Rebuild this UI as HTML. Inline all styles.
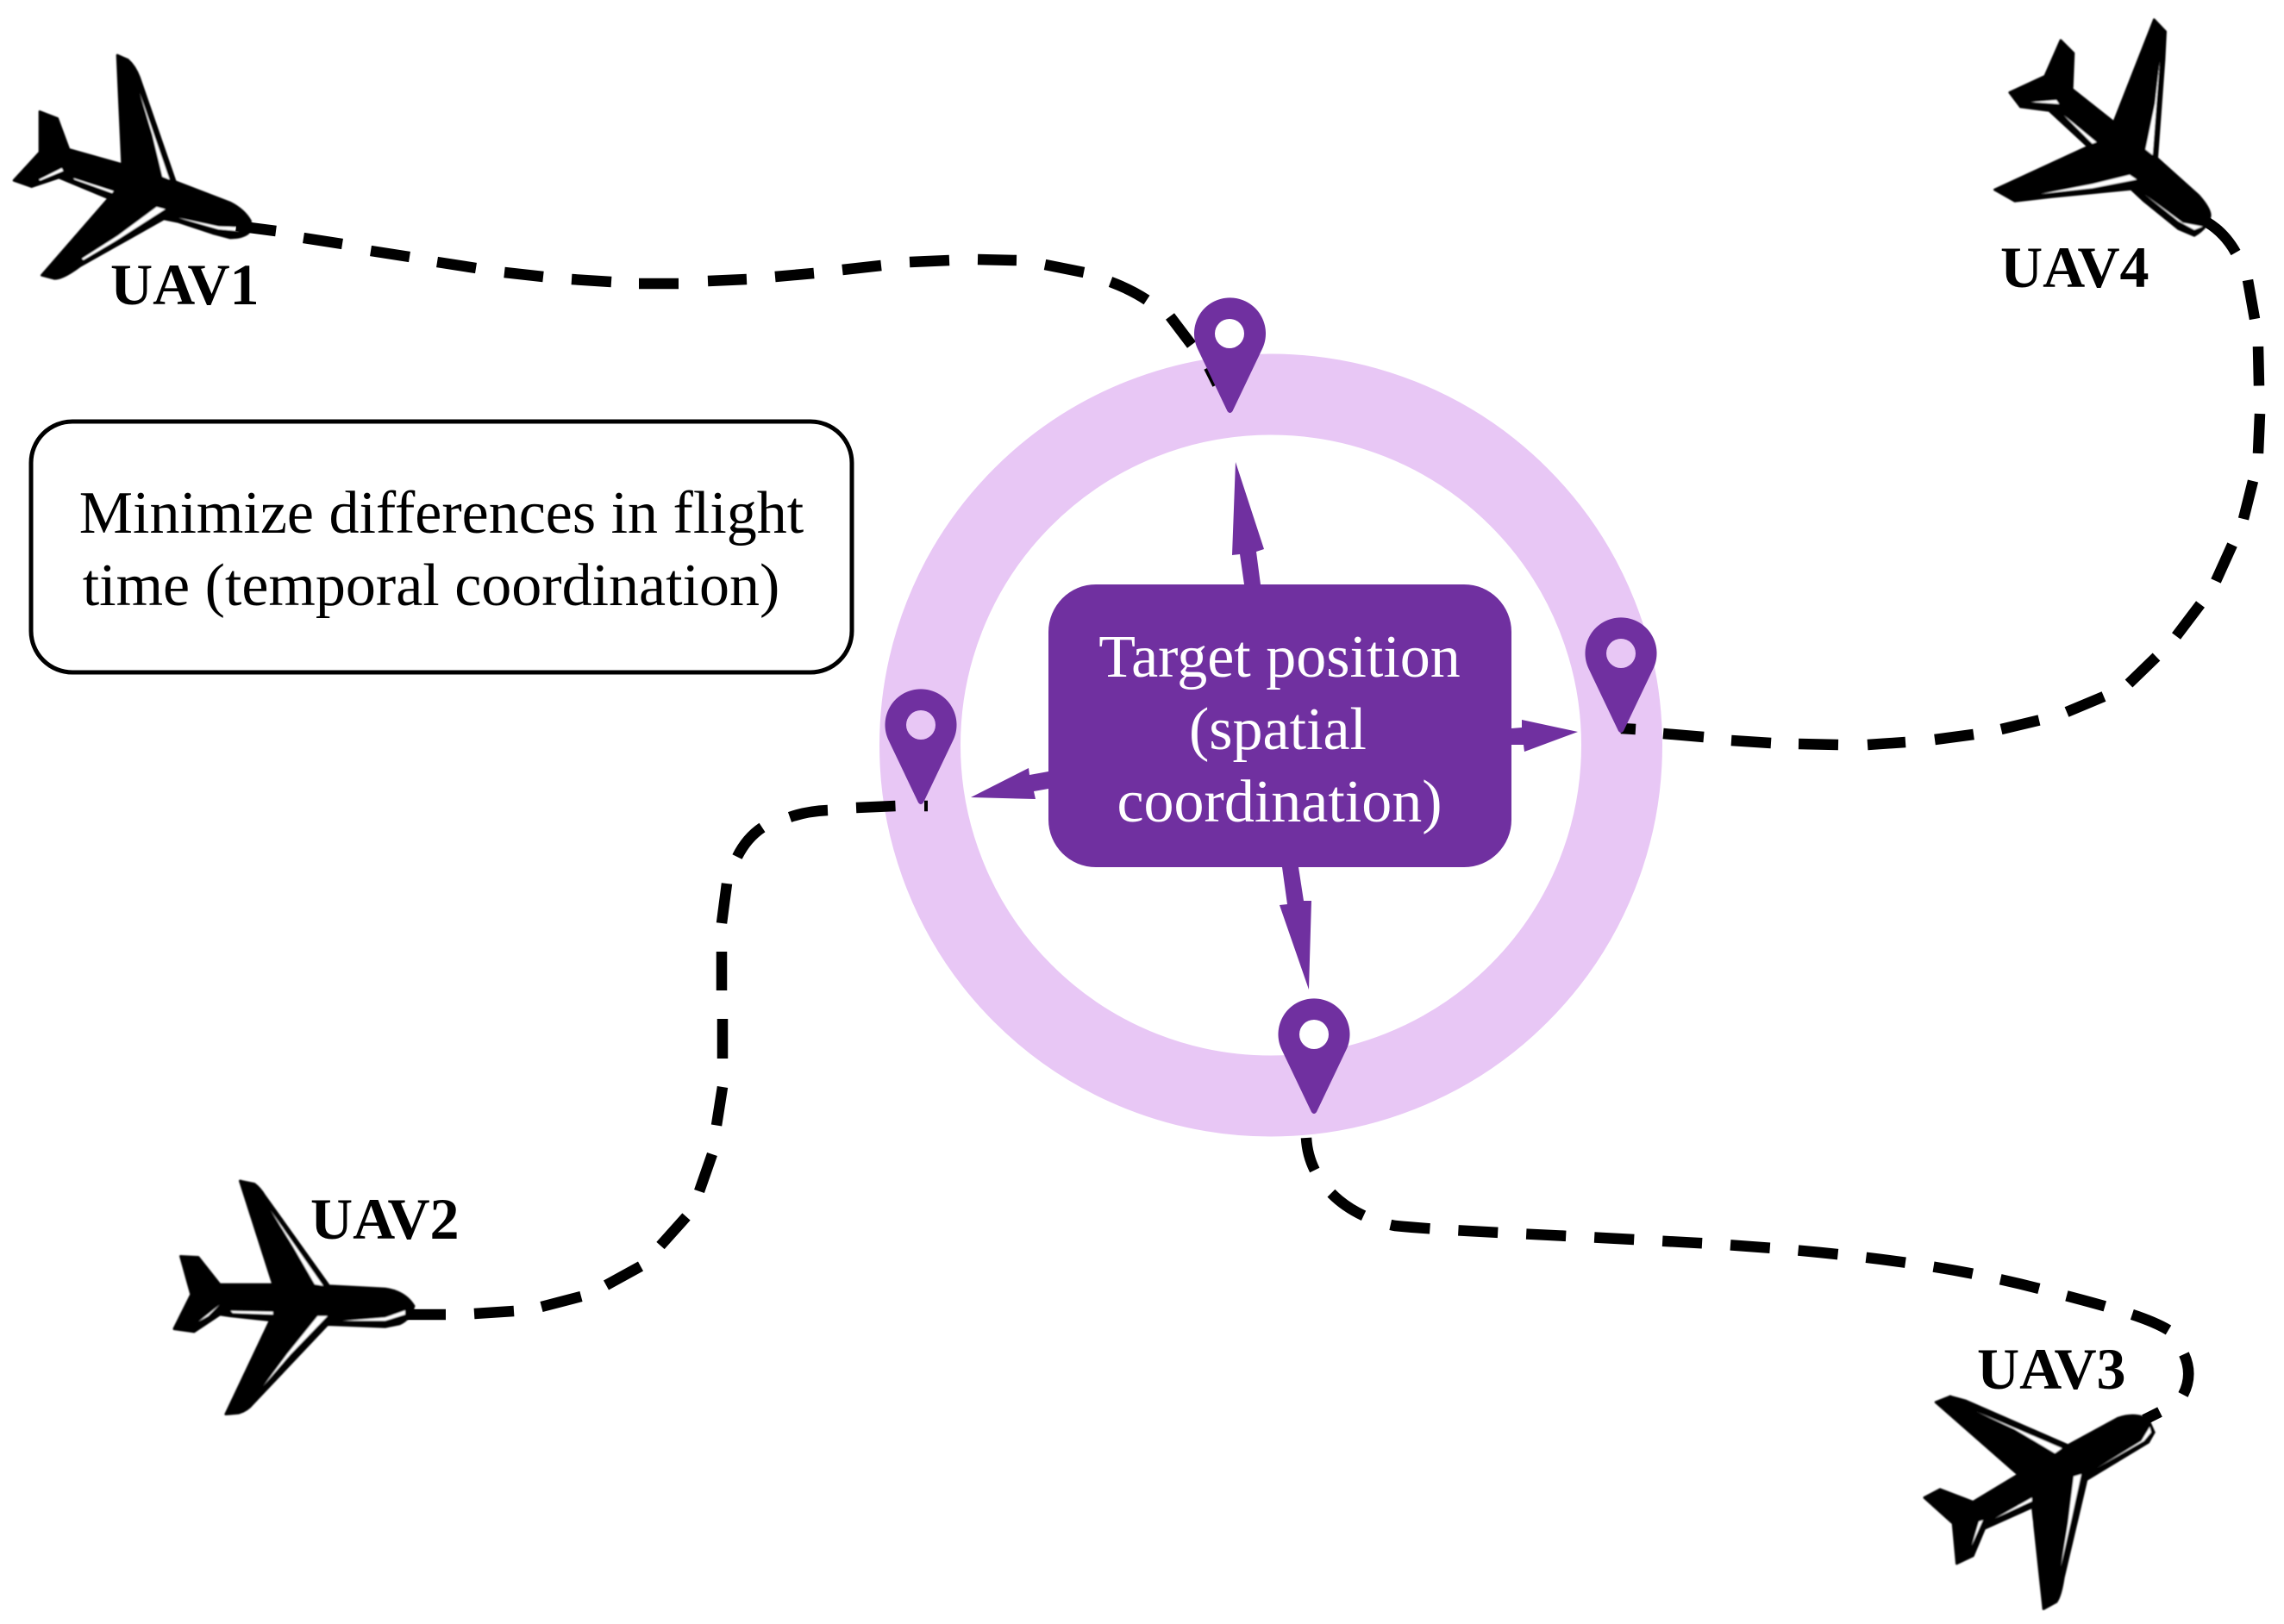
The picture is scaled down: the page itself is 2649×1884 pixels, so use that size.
<!DOCTYPE html>
<html><head><meta charset="utf-8"><style>
html,body{margin:0;padding:0;background:#fff}
svg{display:block}
text{font-family:"Liberation Serif",serif}
.b{font-weight:bold;font-size:68px;fill:#000}
.t{font-size:70px;text-anchor:middle}
.pl{stroke:#000;stroke-width:8;stroke-linejoin:round}
</style></head><body>
<svg width="2649" height="1884" viewBox="0 0 2649 1884" xmlns="http://www.w3.org/2000/svg">
<defs><filter id="s" x="-5%" y="-5%" width="110%" height="110%"><feGaussianBlur stdDeviation="0.8"/></filter></defs>
<rect width="2649" height="1884" fill="#fff"/>
<circle cx="1474" cy="864.500" r="407" fill="none" stroke="#E8C7F5" stroke-width="94"/>
<g filter="url(#s)">
<g transform="translate(0,40) scale(.33333)">
<path class="pl" d="M408,72 L445,88 Q470,110 485,150 L610,512 L800,585 Q850,610 872,650 L865,690 Q845,708 800,708 L740,692 L620,652 L570,642 L280,805 Q220,850 190,850 L145,838 L378,570 L205,498 L110,530 L48,508 L138,410 L138,268 L200,292 L240,400 L425,452 Z"/>
<g fill="#fff"><polygon points="485,200 590,505 565,495 530,350"/><polygon points="545,600 575,608 400,720 290,785 285,780 410,700"/><polygon points="135,505 215,465 220,475 140,508"/><polygon points="255,500 395,545 390,552 260,505"/><polygon points="620,638 760,668 830,670 830,684 760,678"/></g>
</g>
<g transform="translate(180,1350) scale(.33333)">
<path class="pl" d="M295,60 L345,70 Q365,85 380,110 L605,425 L800,435 Q870,445 900,495 Q890,540 850,558 L800,568 L650,562 L600,560 L340,835 Q320,860 290,868 L245,872 L400,545 L260,530 L225,525 L135,585 L65,575 L125,455 L88,322 L150,325 L225,420 L410,420 Z"/>
<g fill="#fff"><polygon points="400,160 585,425 555,420 480,290"/><polygon points="565,530 600,530 470,665 375,775 460,660"/><polygon points="150,550 225,490 185,530"/><polygon points="262,512 410,515 410,525 270,520"/><polygon points="650,547 800,535 870,510 870,525 800,547"/></g>
</g>
<g transform="translate(2220,1530) scale(.33333)">
<path class="pl" d="M75,290 L125,270 L180,285 L535,440 L710,345 Q770,325 815,350 L835,395 L815,430 L600,560 L520,900 Q510,965 495,985 L450,1010 L412,655 L245,730 L205,825 L148,852 L135,712 L35,622 L90,593 L205,637 L362,542 Z"/>
<g fill="#fff"><polygon points="215,322 515,450 490,468 350,385"/><polygon points="555,548 582,540 545,710 510,865 535,710"/><polygon points="280,695 410,622 410,635"/><polygon points="200,790 240,700 225,705"/><polygon points="635,520 790,425 820,375 825,395 800,425"/></g>
</g>
<g transform="translate(2230,0) scale(.33333)">
<path class="pl" d="M805,68 L845,110 L840,210 L815,550 L960,680 Q1000,725 1000,750 Q995,790 945,820 L890,797 L770,700 L725,658 L450,685 L320,700 L250,660 L575,510 L440,385 L340,372 L302,322 L425,265 L480,140 L525,185 L520,310 L665,425 Z"/>
<g fill="#fff"><polygon points="825,210 800,540 775,520 808,360"/><polygon points="720,608 745,625 590,655 410,675 590,640"/><polygon points="375,355 465,348 475,362"/><polygon points="490,400 605,495 590,500"/><polygon points="770,675 905,775 975,788 945,800 890,770"/></g>
</g>
</g>
<g fill="none" stroke="#000" stroke-width="12.500">
<path d="M274,262 L320,268 M352,276 L397,283 M430,291 L475,298 M507,304 L552,311 M585,316 L630,321 M663,324 L709,327 M741,329 L787,329 M821,326 L866,324 M899,321 L944,317 M977,313 L1022,308 M1055,304 L1101,302 M1134,301 L1179,302 M1212,307 L1257,316 M1288,327 Q1312,336 1330,348 M1357,367 L1382,400 M1402,426 L1412,446"/>
<path d="M472,1525 L517,1525 M550,1524 L596,1521 M628,1516 L674,1504 M703,1491 L743,1469 M766,1445 L796,1411.500 M811,1382 L826,1339 M831,1305.500 L838,1261 M838,1228 L838,1182 M837,1149 L837,1104 M837,1071 L843,1025 M855,994 Q866,972 884,960 M916,948 Q936,941 960,940 M993,937 L1038.500,935 M1072,935 L1076,935"/>
<path d="M2560,258 Q2580,270 2593,293 M2607,325 L2615,370 M2619,402 L2620,447.500 M2621,480 L2619,526 M2613,558 L2602,602 M2589,632 L2570,674 M2552,701 L2524,738 M2501,762 L2469,793 M2440,808 L2397,826 M2365,835.500 L2321,846 M2289,852 L2244,858 M2210,861 L2166,864 M2132,864 L2086,863 M2054,862 L2008,859 M1976,855 L1929,851 M1897,846 L1880,845"/>
<path d="M2487,1647 L2505,1638 M2532,1618 Q2544,1595 2533,1571"/>
<path stroke-dasharray="46 33" d="M2515,1543 C2490,1528 2450,1517 2365,1495 S2200,1462 2111,1453 S1950,1441 1858,1436 S1680,1428 1618,1422 C1565,1412 1518,1375 1515,1320"/>
</g>
<rect x="1216" y="678" width="537" height="328" rx="55" fill="#7030A0"/>
<g fill="#7030A0">
<polygon points="1433,536 1466,637 1457,640 1462,678 1443,678 1438,643 1429,644"/>
<polygon points="1753,845 1765,844 1765,835 1830,849 1768,872 1767,864 1753,864"/>
<polygon points="1487,1006 1506,1006 1512,1045 1521,1045 1518,1148 1484,1050 1493,1049"/>
<polygon points="1126,925 1193,891 1194,899 1216,895 1216,915 1199,918 1201,927"/>
</g>
<g fill="#7030A0">
<path d="M1429.500,477 Q1426.500,481 1423.500,477 L1389.400,405.500 A41.500,41.500 0 1 1 1463.600,405.500 Z"/>
<path d="M1071,931 Q1068,935 1065,931 L1030.900,859.500 A41.500,41.500 0 1 1 1105.100,859.500 Z"/>
<path d="M1527,1290 Q1524,1294 1521,1290 L1486.900,1218.500 A41.500,41.500 0 1 1 1561.100,1218.500 Z"/>
<path d="M1883,848 Q1880,852 1877,848 L1842.900,776.500 A41.500,41.500 0 1 1 1917.100,776.500 Z"/>
</g>
<circle cx="1426" cy="387" r="17" fill="#fff"/>
<circle cx="1068" cy="841" r="17" fill="#E8C7F5"/>
<circle cx="1524" cy="1200" r="17" fill="#fff"/>
<circle cx="1880" cy="758" r="17" fill="#E8C7F5"/>
<rect x="36" y="489" width="952" height="291" rx="48" fill="#fff" stroke="#000" stroke-width="5"/>
<text class="t" x="512" y="618" fill="#000">Minimize differences in flight</text>
<text class="t" x="500" y="702" fill="#000">time (temporal coordination)</text>
<text class="t" x="1484" y="785" fill="#fff">Target position</text>
<text class="t" x="1482" y="869" fill="#fff">(spatial</text>
<text class="t" x="1484" y="953" fill="#fff">coordination)</text>
<text class="b" x="128" y="353">UAV1</text>
<text class="b" x="360" y="1437">UAV2</text>
<text class="b" x="2293" y="1611">UAV3</text>
<text class="b" x="2320" y="333">UAV4</text>
</svg>
</body></html>
